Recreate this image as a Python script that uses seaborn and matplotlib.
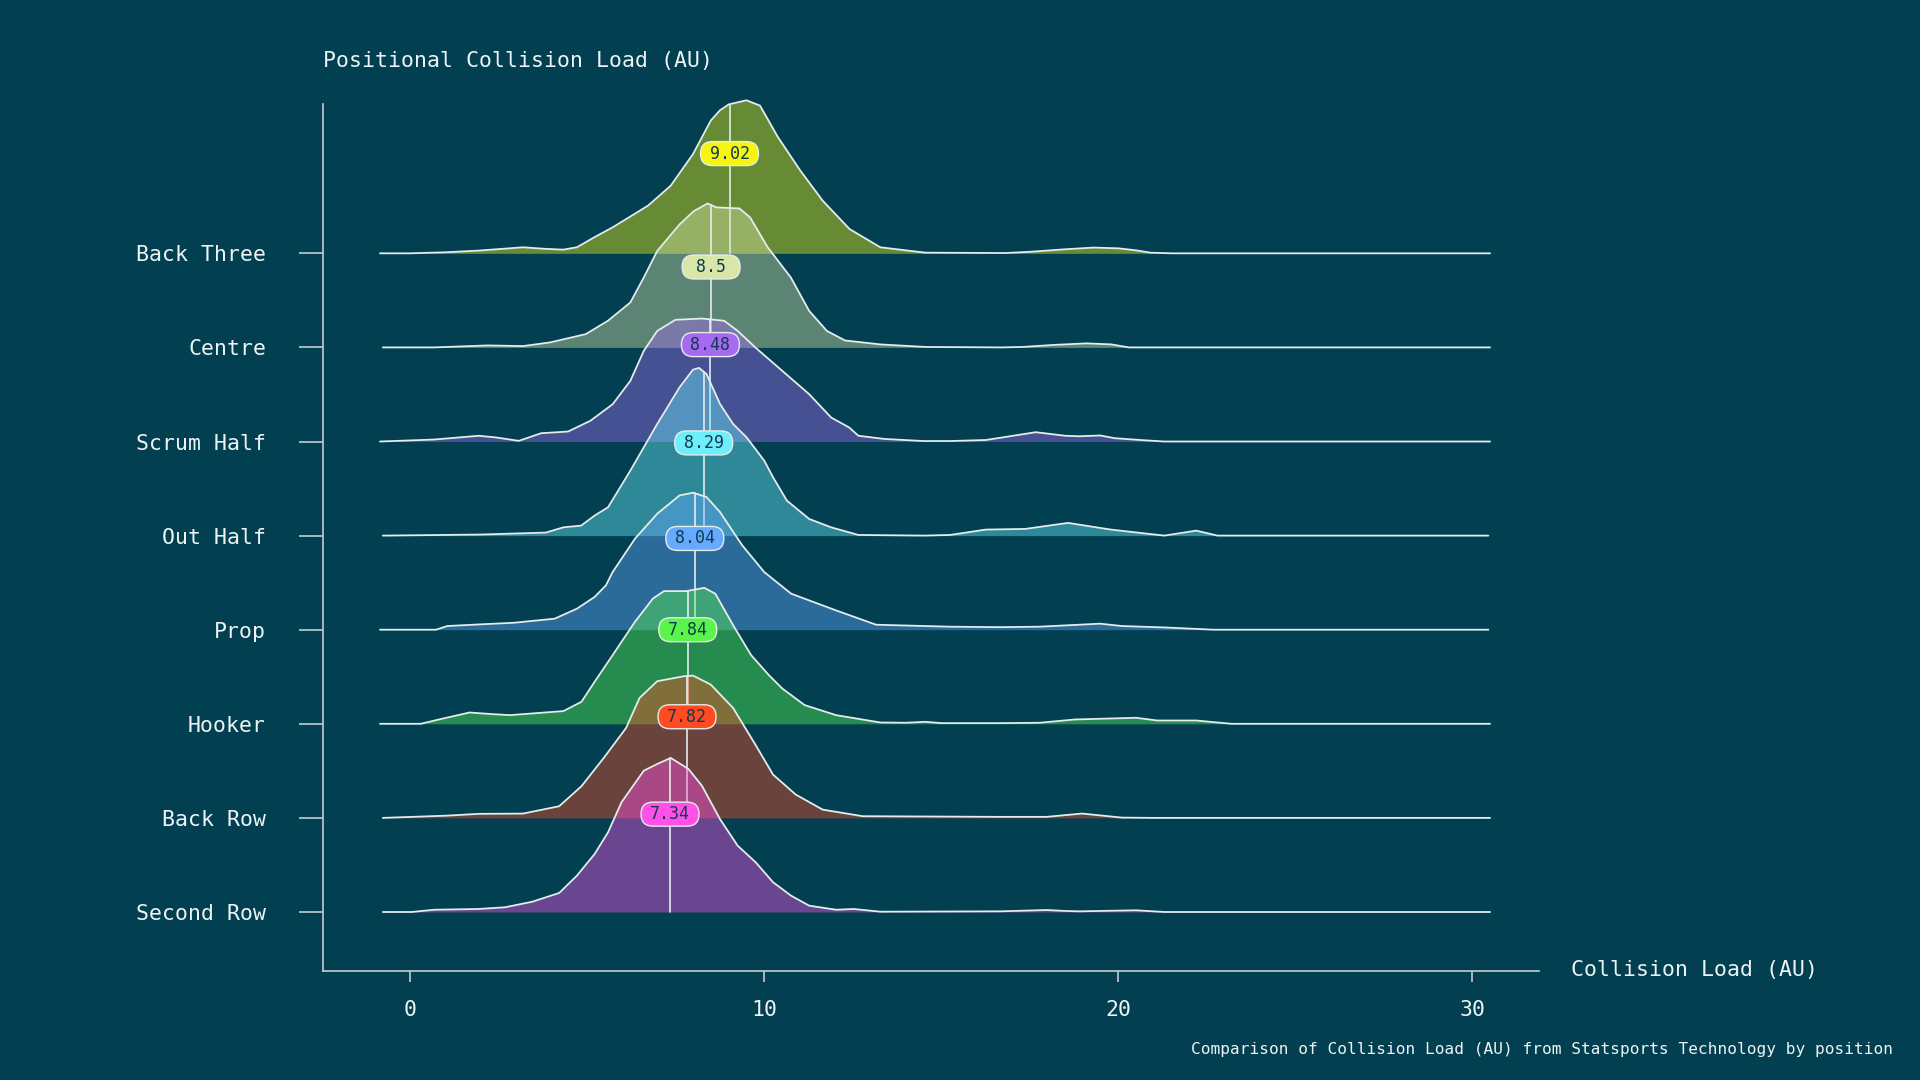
import numpy as np
import pandas as pd
import matplotlib
matplotlib.use("Agg")
import matplotlib.pyplot as plt
from matplotlib.patches import FancyBboxPatch
import seaborn as sns


BG = "#013f51"
INK = "#eef3f3"
LINE = "#e4ecec"
SPINE = "#c3cdd0"
LABEL_INK = "#0f3a50"

positions = ["Back Three", "Centre", "Scrum Half", "Out Half",
             "Prop", "Hooker", "Back Row", "Second Row"]
medians = [9.02, 8.5, 8.48, 8.29, 8.04, 7.84, 7.82, 7.34]
colours = ["#f5f50f", "#d8e6a8", "#a56af0", "#6eeefa",
           "#66aaff", "#5af54a", "#ff4a22", "#ff50e8"]

# density curves (collision load, density)
back_three_x = [-0.85, 0.0, 1.0, 1.94, 3.19, 3.8, 4.32, 4.71, 5.2, 5.72, 6.72, 7.36, 7.99, 8.49,
                8.75, 9.0, 9.5, 9.88, 10.39, 11.02, 11.65, 12.41, 13.28, 14.55, 16.8, 17.5,
                18.5, 19.3, 20.0, 20.5, 20.9, 21.5, 30.5]
back_three_d = [0, 0, .0011, .0029, .0064, .0048, .0039, .0064, .0170, .0276, .0507, .0719, .1055,
                .1410, .1520, .1583, .1626, .1570, .1233, .0879, .0560, .0258, .0064, .0007,
                .0003, .0016, .0043, .0061, .0053, .0032, .0007, 0, 0]

centre_x = [-0.77, 0.68, 2.19, 3.19, 3.95, 4.96, 5.59, 6.22, 6.6, 6.98, 7.61, 8.0, 8.4, 8.65,
            9.3, 9.6, 10.1, 10.75, 11.27, 11.77, 12.28, 13.28, 14.55, 16.7, 17.3, 18.2, 19.1,
            19.8, 20.3, 30.5]
centre_d = [0, 0, .0021, .0014, .0053, .0141, .0284, .0478, .0744, .1026, .1307, .1445, .1530,
            .1488, .1477, .1382, .1063, .0744, .0388, .0175, .0074, .0032, .0005, 0, .0005,
            .0027, .0043, .0032, 0, 0]

scrum_half_x = [-0.85, 0.68, 1.94, 2.43, 3.07, 3.7, 4.46, 5.09, 5.72, 6.22, 6.6, 6.98, 7.49,
                8.24, 8.87, 9.25, 9.75, 10.51, 11.27, 11.89, 12.4, 12.66, 13.4, 14.5, 15.25,
                16.26, 17.67, 18.5, 18.9, 19.49, 19.9, 20.7, 21.3, 30.5]
scrum_half_d = [0, .0021, .0061, .0043, .0007, .0088, .0106, .0220, .0396, .0645, .0964, .1176,
                .1293, .1307, .1283, .1176, .0999, .0751, .0503, .0255, .0149, .0061, .0027,
                .0005, .0005, .0016, .0099, .0061, .0056, .0064, .0035, .0014, 0, 0]

out_half_x = [-0.77, 1.94, 3.83, 4.33, 4.83, 5.21, 5.59, 6.22, 6.98, 7.61, 7.99, 8.16, 8.37,
              8.75, 9.12, 9.5, 10.0, 10.25, 10.64, 11.27, 11.89, 12.66, 14.5, 15.25, 16.26,
              17.37, 18.58, 19.79, 21.3, 22.2, 22.8, 30.45]
out_half_d = [0, .0011, .0032, .0088, .0106, .0213, .0301, .0691, .1187, .1576, .1764, .1782,
              .1718, .1400, .1187, .1045, .0797, .0620, .0372, .0177, .0088, .0007, 0, .0007,
              .0064, .0071, .0135, .0064, 0, .0053, 0, 0]

prop_x = [-0.85, 0.73, 1.05, 1.94, 2.94, 4.08, 4.71, 5.21, 5.53, 5.72, 6.35, 6.98, 7.61, 7.99,
          8.37, 8.75, 9.38, 10.0, 10.76, 12.03, 13.16, 14.55, 15.25, 16.67, 17.77, 19.49, 20.1,
          21.3, 22.7, 30.45]
prop_d = [0, 0, .0039, .0056, .0074, .0117, .0223, .0348, .0471, .0613, .0967, .1233, .1427,
          .1456, .1410, .1251, .0896, .0613, .0383, .0205, .0053, .0039, .0032, .0027, .0032,
          .0064, .0039, .0024, 0, 0]

hooker_x = [-0.85, 0.30, 0.93, 1.68, 2.31, 2.82, 4.33, 4.84, 5.21, 5.72, 6.35, 6.86, 7.17,
            7.80, 8.31, 8.62, 9.12, 9.63, 10.13, 10.51, 11.14, 12.03, 13.28, 14.0, 14.55, 15.0,
            16.67, 17.77, 18.78, 20.5, 21.1, 22.2, 23.2, 30.5]
hooker_d = [0, 0, .0056, .0120, .0103, .0092, .0135, .0234, .0446, .0730, .1084, .1332, .1410,
            .1410, .1445, .1382, .1049, .0730, .0518, .0375, .0199, .0092, .0014, .0011, .0021,
            .0007, .0007, .0011, .0046, .0064, .0035, .0035, 0, 0]

back_row_x = [-0.77, 1.05, 1.94, 3.19, 4.21, 4.84, 5.47, 6.10, 6.48, 6.98, 7.74, 7.99, 8.49,
              9.12, 9.75, 10.25, 10.89, 11.65, 12.78, 16.67, 17.97, 18.98, 20.1, 21.0, 30.5]
back_row_d = [0, .0024, .0043, .0046, .0124, .0337, .0638, .0956, .1275, .1453, .1506, .1512,
              .1417, .1169, .0779, .0460, .0248, .0088, .0018, .0011, .0011, .0046, .0003, 0, 0]

second_row_x = [-0.77, 0.05, 0.68, 1.94, 2.68, 3.45, 4.21, 4.71, 5.21, 5.59, 5.97, 6.60, 6.98,
                7.36, 7.86, 8.24, 8.75, 9.25, 9.76, 10.25, 10.76, 11.27, 12.03, 12.53, 13.28,
                16.67, 17.97, 18.5, 18.9, 20.5, 21.3, 30.5]
second_row_d = [0, 0, .0024, .0032, .0050, .0109, .0202, .0386, .0616, .0847, .1166, .1502,
                .1573, .1637, .1520, .1342, .0988, .0705, .0528, .0316, .0173, .0067, .0024,
                .0032, .0003, .0007, .0021, .0011, .0007, .0018, 0, 0]

curves = {
    "Back Three": (back_three_x, back_three_d),
    "Centre": (centre_x, centre_d),
    "Scrum Half": (scrum_half_x, scrum_half_d),
    "Out Half": (out_half_x, out_half_d),
    "Prop": (prop_x, prop_d),
    "Hooker": (hooker_x, hooker_d),
    "Back Row": (back_row_x, back_row_d),
    "Second Row": (second_row_x, second_row_d),
}

SCALE = 10.0      # ridge height per unit density (in row spacings)
# how far above its baseline each median pill sits (row spacings)
label_lift = [1.06, 0.855, 1.03, 0.985, 0.97, 1.0, 1.075, 1.04]

frames = []
for i, name in enumerate(positions):
    xs, ds = curves[name]
    base = len(positions) - 1 - i
    frames.append(pd.DataFrame({"position": name, "load": xs, "density": ds,
                                "base": base}))
df = pd.concat(frames, ignore_index=True)
df["ridge"] = df["base"] + df["density"] * SCALE

sns.set_theme(style="ticks", rc={
    "axes.facecolor": BG, "figure.facecolor": BG, "savefig.facecolor": BG,
    "axes.edgecolor": SPINE, "axes.linewidth": 1.2,
    "xtick.color": SPINE, "ytick.color": SPINE,
    "xtick.labelcolor": INK, "ytick.labelcolor": INK, "text.color": INK,
})
plt.rcParams["font.family"] = ["DejaVu Sans Mono", "DejaVu Sans"]

fig = plt.figure(figsize=(19.2, 10.8), dpi=100)
ax = fig.add_axes([0.16823, 0.10093, 0.63333, 0.80278])

for i, name in enumerate(positions):
    sub = df[df["position"] == name]
    base = sub["base"].iloc[0]
    z = 2 + i * 3
    ax.fill_between(sub["load"], base, sub["ridge"], color=colours[i], alpha=0.42,
                    lw=0, zorder=z, clip_on=False)
    sns.lineplot(data=sub, x="load", y="ridge", color=LINE, lw=1.3, ax=ax,
                 estimator=None, sort=False, zorder=z + 1, clip_on=False)
    m = medians[i]
    top = base + np.interp(m, sub["load"], sub["density"]) * SCALE
    ax.plot([m, m], [base, top], color=LINE, lw=1.2, zorder=z + 2)

# median value pills
px_x = 35.41   # pixels per x unit
px_y = 94.14   # pixels per row
box_w = 58 / px_x
box_h = 24 / px_y
for i, name in enumerate(positions):
    base = len(positions) - 1 - i
    m = medians[i]
    yc = base + label_lift[i]
    pill = FancyBboxPatch((m - box_w / 2, yc - box_h / 2), box_w, box_h,
                          boxstyle=f"round,pad=0,rounding_size={box_h * px_y / 2 / px_x:.4f}",
                          mutation_aspect=px_x / px_y,
                          fc=colours[i], ec=LINE, lw=1.0, zorder=100)
    ax.add_patch(pill)
    ax.text(m, yc, f"{m:g}", ha="center", va="center", fontsize=12,
            color=LABEL_INK, zorder=101)

ax.set_xlim(-2.46, 31.88)
ax.set_ylim(-0.627, 8.587)
ax.set_xticks([0, 10, 20, 30])
ax.set_yticks(range(len(positions)))
ax.set_yticklabels(positions[::-1])
ax.tick_params(axis="y", length=17, width=1.2, pad=24, labelsize=15.5)
ax.tick_params(axis="x", length=8, width=1.2, pad=13, labelsize=15.5)
ax.set_xlabel("")
ax.set_ylabel("")
sns.despine(ax=ax)

fig.text(0.16823, 0.9435, "Positional Collision Load (AU)", ha="left", va="center",
         fontsize=15.5, color=INK)
fig.text(0.8182, 0.1019, "Collision Load (AU)", ha="left", va="center",
         fontsize=15.5, color=INK)
fig.text(0.9857, 0.0278,
         "Comparison of Collision Load (AU) from Statsports Technology by position",
         ha="right", va="center", fontsize=11.6, color=INK)

fig.savefig("out.png", dpi=100, facecolor=BG)
plt.close(fig)
